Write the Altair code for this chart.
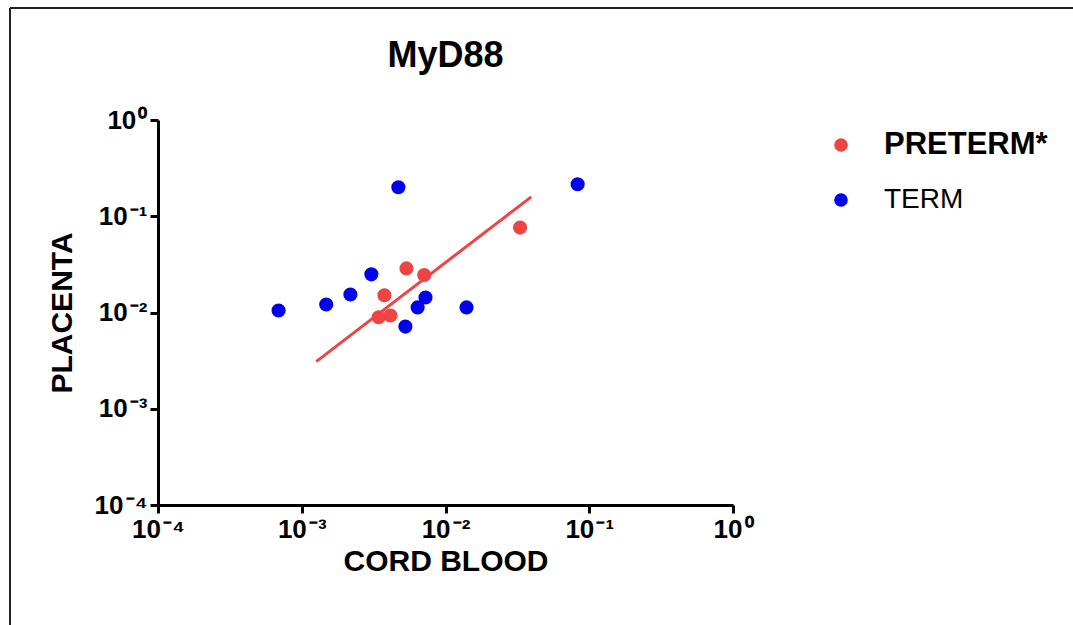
import altair as alt
import pandas as pd

# Data
term_x = [6.9e-4, 1.48e-3, 2.18e-3, 3.05e-3, 4.7e-3, 5.26e-3, 6.4e-3, 7.26e-3, 0.014, 0.083]
term_y = [0.0105, 0.0121, 0.0154, 0.0249, 0.20, 0.00714, 0.0113, 0.0143, 0.0113, 0.215]
pre_x = [3.43e-3, 4.14e-3, 3.76e-3, 5.35e-3, 7.11e-3, 0.033]
pre_y = [0.00893, 0.0093, 0.0151, 0.0287, 0.0245, 0.0762]
fit_x = [1.26e-3, 0.0395]
fit_y = [3.09e-3, 0.159]

groups = ["PRETERM*", "TERM"]
colors = ["#EF4444", "#0000F0"]
tick_vals = [1e-4, 1e-3, 1e-2, 1e-1, 1.0]

pts = pd.DataFrame({
    "x": pre_x + term_x,
    "y": pre_y + term_y,
    "group": [groups[0]] * len(pre_x) + [groups[1]] * len(term_x),
})
fit = pd.DataFrame({"x": fit_x, "y": fit_y, "group": [groups[0]] * len(fit_x)})

FONT = "Liberation Sans"
sup_expr = ("'10\u200a' + (round(log(datum.value)/LN10) < 0 ? '⁻' : '') + "
            "['⁰','¹','²','³','⁴'][abs(round(log(datum.value)/LN10))]")

xscale = alt.Scale(type="log", domain=[1e-4, 1.0], nice=False)
yscale = alt.Scale(type="log", domain=[1e-4, 1.0], nice=False)

axis_common = dict(
    values=tick_vals, labelExpr=sup_expr, grid=False,
    domainColor="black", domainWidth=3, tickColor="black", tickWidth=3, tickSize=8,
    labelFont=FONT, labelFontSize=26, labelFontWeight="bold", labelColor="black",
    titleFont=FONT, titleFontWeight="bold", titleColor="black",
    labelFlush=False, labelOverlap=False,
)

x_axis = alt.Axis(labelPadding=3, titlePadding=4, titleFontSize=30, **axis_common)
y_axis = alt.Axis(labelPadding=3, titlePadding=17, titleFontSize=30, **axis_common)

color_enc = alt.Color(
    "group:N",
    scale=alt.Scale(domain=groups, range=colors),
    legend=alt.Legend(
        title=None, orient="none", legendX=669, legendY=11,
        symbolType="circle", symbolSize=185, symbolStrokeWidth=0,
        labelFont=FONT, labelColor="black", labelLimit=400,
        labelFontSize={"expr": "datum.label == 'PRETERM*' ? 31 : 28"},
        labelFontWeight={"expr": "datum.label == 'PRETERM*' ? 'bold' : 'normal'"},
        labelOffset=29, rowPadding=26,
    ),
)

points = alt.Chart(pts).mark_circle(size=200, opacity=1).encode(
    x=alt.X("x:Q", scale=xscale, title="CORD BLOOD", axis=x_axis),
    y=alt.Y("y:Q", scale=yscale, title="PLACENTA", axis=y_axis),
    color=color_enc,
)

line = alt.Chart(fit).mark_line(strokeWidth=3, color=colors[0]).encode(
    x=alt.X("x:Q", scale=xscale, title="CORD BLOOD", axis=x_axis),
    y=alt.Y("y:Q", scale=yscale, title="PLACENTA", axis=y_axis),
)

frame_df = pd.DataFrame({"k": [0]})
frame_v = alt.Chart(frame_df).mark_rule(color="#222222", strokeWidth=2).encode(
    x=alt.value(-148), y=alt.value(-112), y2=alt.value(520)
)
frame_h = alt.Chart(frame_df).mark_rule(color="#222222", strokeWidth=2).encode(
    x=alt.value(-148), x2=alt.value(930), y=alt.value(-112)
)

chart = alt.layer(points, line, frame_v, frame_h).properties(
    width=575, height=385,
    title=alt.TitleParams("MyD88", font=FONT, fontSize=36, fontWeight="bold",
                          color="black", anchor="middle", frame="group",
                          baseline="alphabetic", offset=-96),
    autosize=alt.AutoSizeParams(type="none"),
    padding={"left": 158, "top": 120, "right": 340, "bottom": 120},
    background="white",
).configure_view(stroke=None)

chart.save("out.html", embed_options={"renderer": "svg", "actions": False})
